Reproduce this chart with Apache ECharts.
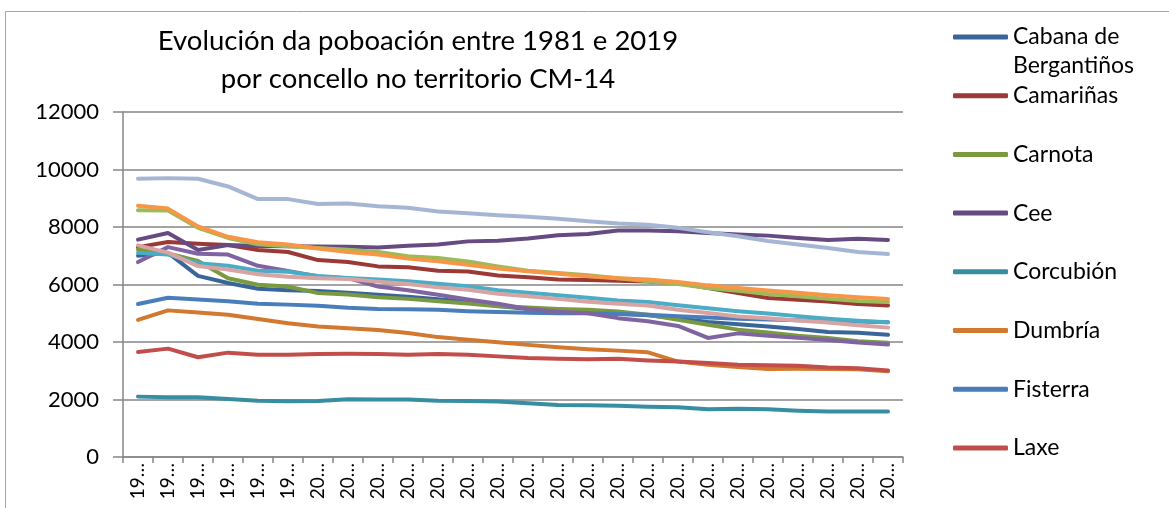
<!DOCTYPE html>
<html>
<head>
<meta charset="utf-8">
<script src="https://cdn.jsdelivr.net/npm/echarts@6/dist/echarts.min.js"></script>
<style>
  html, body { margin: 0; padding: 0; background: #fff; overflow: hidden; }
  #chart { width: 1169px; height: 508px; }
</style>
</head>
<body>
<div id="chart"></div>
<script>
// anos do padrón
var years = ['1981', '1986', '1991', '1996', '1998', '1999', '2000', '2001', '2002', '2003', '2004', '2005', '2006',
    '2007', '2008', '2009', '2010', '2011', '2012', '2013', '2014', '2015', '2016', '2017', '2018', '2019'];

// poboación por concello
var cabana    = [7000, 7100, 6300, 6050, 5850, 5800, 5770, 5710, 5640, 5570, 5490, 5390, 5250, 5150, 5080, 5030, 4980, 4930, 4820, 4700, 4620, 4540, 4450, 4350, 4320, 4250];
var camarinas = [7300, 7480, 7420, 7370, 7200, 7130, 6850, 6780, 6630, 6600, 6480, 6450, 6310, 6250, 6170, 6160, 6130, 6100, 6050, 5880, 5700, 5530, 5470, 5410, 5320, 5270];
var carnota   = [7220, 7080, 6820, 6220, 5990, 5930, 5700, 5650, 5560, 5500, 5420, 5340, 5240, 5200, 5150, 5120, 5060, 4950, 4770, 4600, 4430, 4330, 4220, 4140, 4030, 3970];
var cee       = [7560, 7790, 7200, 7370, 7340, 7330, 7320, 7310, 7290, 7350, 7390, 7500, 7520, 7600, 7710, 7760, 7880, 7880, 7850, 7790, 7740, 7700, 7620, 7550, 7590, 7550];
var corcubion = [2100, 2080, 2080, 2020, 1960, 1940, 1950, 2010, 2000, 2000, 1960, 1950, 1930, 1870, 1810, 1800, 1780, 1750, 1730, 1660, 1680, 1660, 1610, 1580, 1580, 1580];
var dumbria   = [4770, 5100, 5030, 4950, 4800, 4650, 4540, 4480, 4420, 4310, 4170, 4080, 3990, 3900, 3820, 3750, 3700, 3640, 3320, 3210, 3130, 3060, 3070, 3060, 3050, 2980];
var fisterra  = [5320, 5540, 5480, 5420, 5330, 5300, 5260, 5190, 5150, 5140, 5120, 5070, 5040, 5020, 5000, 5000, 4970, 4950, 4900, 4850, 4810, 4780, 4760, 4730, 4710, 4690];
var laxe      = [3650, 3770, 3470, 3630, 3560, 3560, 3580, 3590, 3580, 3560, 3580, 3560, 3500, 3440, 3420, 3400, 3420, 3360, 3320, 3270, 3210, 3190, 3170, 3110, 3090, 3010];
var malpica   = [8580, 8570, 7970, 7620, 7400, 7330, 7270, 7210, 7130, 6980, 6920, 6800, 6630, 6480, 6400, 6320, 6220, 6110, 6020, 5880, 5780, 5670, 5590, 5500, 5430, 5390];
var mazaricos = [6780, 7300, 7070, 7040, 6650, 6470, 6280, 6220, 5930, 5800, 5640, 5480, 5330, 5150, 5050, 5000, 4830, 4720, 4560, 4140, 4300, 4220, 4150, 4070, 3980, 3910];
var muxia     = [7100, 7040, 6740, 6650, 6480, 6440, 6300, 6230, 6170, 6110, 6030, 5940, 5800, 5710, 5630, 5540, 5440, 5390, 5280, 5170, 5070, 4990, 4900, 4810, 4740, 4690];
var ponteceso = [8740, 8640, 8020, 7660, 7470, 7390, 7250, 7130, 7040, 6900, 6810, 6690, 6560, 6460, 6370, 6290, 6220, 6170, 6090, 5970, 5880, 5790, 5710, 5630, 5560, 5500];
var vimianzo  = [9680, 9700, 9680, 9410, 8970, 8970, 8800, 8820, 8720, 8670, 8540, 8480, 8410, 8360, 8290, 8200, 8120, 8080, 7970, 7820, 7680, 7510, 7390, 7270, 7130, 7060];
var zas       = [7360, 7110, 6640, 6520, 6360, 6270, 6220, 6190, 6100, 6020, 5900, 5820, 5680, 5590, 5500, 5400, 5330, 5270, 5120, 5010, 4890, 4830, 4750, 4680, 4580, 4500];

var concellos = ['Cabana de Bergantiños', 'Camariñas', 'Carnota', 'Cee', 'Corcubión', 'Dumbría', 'Fisterra', 'Laxe',
    'Malpica', 'Mazaricos', 'Muxía', 'Ponteceso', 'Vimianzo', 'Zas'];
var valores = [cabana, camarinas, carnota, cee, corcubion, dumbria, fisterra, laxe,
    malpica, mazaricos, muxia, ponteceso, vimianzo, zas];
var cores = ['#3A659A', '#9A3936', '#7A9A41', '#654B82', '#378EA2', '#D2782F', '#4A7EBB', '#C24E4B',
    '#9BBB59', '#8064A2', '#4BACC6', '#F79646', '#A5B6D5', '#D8A4A3'];

var fonte = 'Lato, "Open Sans", sans-serif';

var series = concellos.map(function (nome, i) {
    return {
        name: nome,
        type: 'line',
        data: valores[i],
        symbol: 'none',
        lineStyle: { width: 4, color: cores[i], cap: 'round', join: 'round' },
        itemStyle: { color: cores[i] }
    };
});

var myChart = echarts.init(document.getElementById('chart'));
var option = {
    backgroundColor: '#fff',
    animation: false,
    color: cores,
    title: {
        text: 'Evolución da poboación entre 1981 e 2019\npor concello no territorio CM-14',
        left: 418,
        top: 22,
        textAlign: 'center',
        padding: 0,
        textStyle: {
            fontFamily: fonte,
            fontSize: 27.5,
            fontWeight: 'normal',
            color: '#000',
            lineHeight: 38
        }
    },
    legend: {
        orient: 'vertical',
        left: 953,
        top: 23,
        padding: 0,
        itemGap: 30.7,
        itemWidth: 55,
        itemHeight: 5,
        icon: 'roundRect',
        // a lenda do orixinal só amosa os oito primeiros
        data: concellos.slice(0, 8),
        formatter: function (name) {
            return name === 'Cabana de Bergantiños' ? 'Cabana de' : name;
        },
        textStyle: { fontFamily: fonte, fontSize: 23, color: '#000', lineHeight: 28 }
    },
    graphic: [
        {
            type: 'polyline',
            silent: true,
            shape: { points: [[5.5, 508], [5.5, 11.5], [1169, 11.5]] },
            style: { stroke: '#a6a6a6', lineWidth: 1, fill: null }
        },
        {
            type: 'text',
            left: 1013,
            top: 54,
            silent: true,
            style: { text: 'Bergantiños', font: '23px ' + fonte, fill: '#000' }
        }
    ],
    grid: { left: 123, right: 266, top: 112, bottom: 51, containLabel: false },
    xAxis: {
        type: 'category',
        data: years,
        boundaryGap: true,
        axisLine: { lineStyle: { color: '#868686', width: 1.5 } },
        axisTick: { show: true, length: 6, lineStyle: { color: '#868686', width: 1.5 } },
        axisLabel: {
            interval: 0,
            rotate: 90,
            margin: 6,
            fontFamily: fonte,
            fontSize: 19,
            color: '#000',
            formatter: function (v) { return v.slice(0, 2) + '…'; }
        }
    },
    yAxis: {
        type: 'value',
        min: 0,
        max: 12000,
        interval: 2000,
        axisLine: { show: true, lineStyle: { color: '#868686', width: 1.5 } },
        axisTick: { show: true, length: 10, lineStyle: { color: '#868686', width: 1.5 } },
        axisLabel: {
            margin: 24,
            fontFamily: fonte,
            fontSize: 22,
            color: '#000',
            formatter: function (v) { return String(v); }
        },
        splitLine: { show: true, lineStyle: { color: '#868686', width: 1.5 } }
    },
    series: series
};
myChart.setOption(option);
</script>
</body>
</html>
